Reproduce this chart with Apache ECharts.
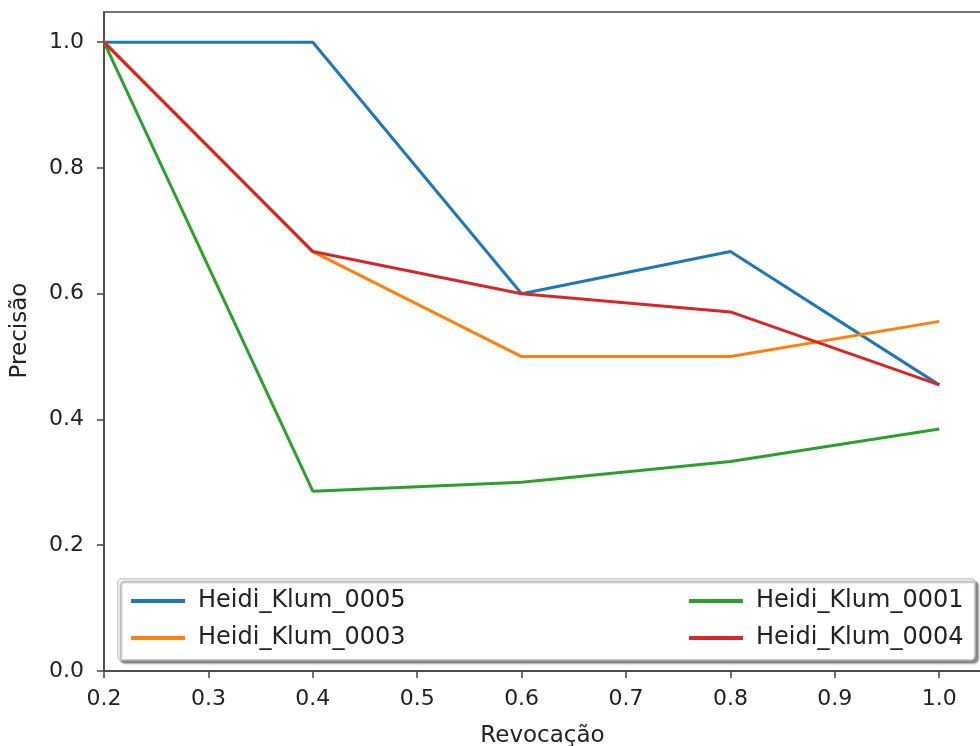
<!DOCTYPE html>
<html>
<head>
<meta charset="utf-8">
<script src="https://cdn.jsdelivr.net/npm/echarts@6/dist/echarts.min.js"></script>
<style>
  html, body { margin: 0; padding: 0; background: #fff; }
  #main { width: 980px; height: 746px; }
</style>
</head>
<body>
<div id="main"></div>
<script>
// recall points shared by every curve
var recall = [0.2, 0.4, 0.6, 0.8, 1.0];
var names = ["Heidi_Klum_0005", "Heidi_Klum_0003", "Heidi_Klum_0001", "Heidi_Klum_0004"];
var prec0005 = [1.0, 1.0, 0.6, 0.667, 0.455];
var prec0003 = [1.0, 0.667, 0.5, 0.5, 0.556];
var prec0001 = [1.0, 0.286, 0.3, 0.333, 0.385];
var prec0004 = [1.0, 0.667, 0.6, 0.571, 0.455];
var xTicks = [0.2, 0.3, 0.4, 0.5, 0.6, 0.7, 0.8, 0.9, 1.0];
var yTicks = [0.0, 0.2, 0.4, 0.6, 0.8, 1.0];
var colors = ["#1f77b4", "#ff7f0e", "#2ca02c", "#d62728"];

var font = "DejaVu Sans";

var pairs = function (ys) {
  return ys.map(function (y, i) { return [recall[i], y]; });
};
var allPrec = [prec0005, prec0003, prec0001, prec0004];

var series = allPrec.map(function (ys, i) {
  return {
    name: names[i],
    type: "line",
    data: pairs(ys),
    symbol: "none",
    lineStyle: { width: 3, color: colors[i] },
    itemStyle: { color: colors[i] },
    z: 2
  };
});

var legendBase = {
  orient: "vertical",
  icon: "rect",
  itemWidth: 54,
  itemHeight: 4,
  itemGap: 13,
  textStyle: { fontFamily: font, fontSize: 24, color: "#222", padding: [0, 0, 0, 8] },
  z: 5
};

var myChart = echarts.init(document.getElementById("main"));
var option = {
  animation: false,
  color: colors,
  grid: {
    left: 104,
    right: -1,
    top: 12,
    bottom: 75,
    outerBoundsMode: "none",
    containLabel: false,
    show: true,
    borderColor: "#444",
    borderWidth: 1.5,
    backgroundColor: "#fff"
  },
  graphic: [{
    type: "rect",
    left: 117,
    top: 578,
    shape: { width: 857, height: 81, r: 4 },
    style: {
      fill: "#fff",
      stroke: "#ccc",
      lineWidth: 1.5,
      shadowColor: "rgba(0,0,0,0.45)",
      shadowOffsetX: 3,
      shadowOffsetY: 3,
      shadowBlur: 2
    },
    z: 4
  }],
  legend: [
    Object.assign({}, legendBase, { data: [names[0], names[1]], left: 126, top: 584 }),
    Object.assign({}, legendBase, { data: [names[2], names[3]], left: 684, top: 584 })
  ],
  xAxis: {
    type: "value",
    min: 0.2,
    max: 1.04,
    name: "Revocação",
    nameLocation: "middle",
    nameGap: 54,
    nameTextStyle: { fontFamily: font, fontSize: 23, color: "#222" },
    axisLine: { show: true, onZero: false, lineStyle: { color: "#444", width: 1.5 } },
    axisTick: { show: true, length: 7, customValues: xTicks, lineStyle: { color: "#444", width: 1.5 } },
    axisLabel: {
      customValues: xTicks,
      margin: 17,
      fontFamily: font,
      fontSize: 22,
      color: "#222",
      formatter: function (v) { return v.toFixed(1); }
    },
    splitLine: { show: false }
  },
  yAxis: {
    type: "value",
    min: 0,
    max: 1.048,
    name: "Precisão",
    nameLocation: "middle",
    nameGap: 72,
    nameTextStyle: { fontFamily: font, fontSize: 23, color: "#222", padding: [0, 0, 0, 22] },
    axisLine: { show: true, lineStyle: { color: "#444", width: 1.5 } },
    axisTick: { show: true, length: 7, customValues: yTicks, lineStyle: { color: "#444", width: 1.5 } },
    axisLabel: {
      customValues: yTicks,
      margin: 20,
      fontFamily: font,
      fontSize: 22,
      color: "#222",
      formatter: function (v) { return v.toFixed(1); }
    },
    splitLine: { show: false }
  },
  series: series
};
myChart.setOption(option);
</script>
</body>
</html>
